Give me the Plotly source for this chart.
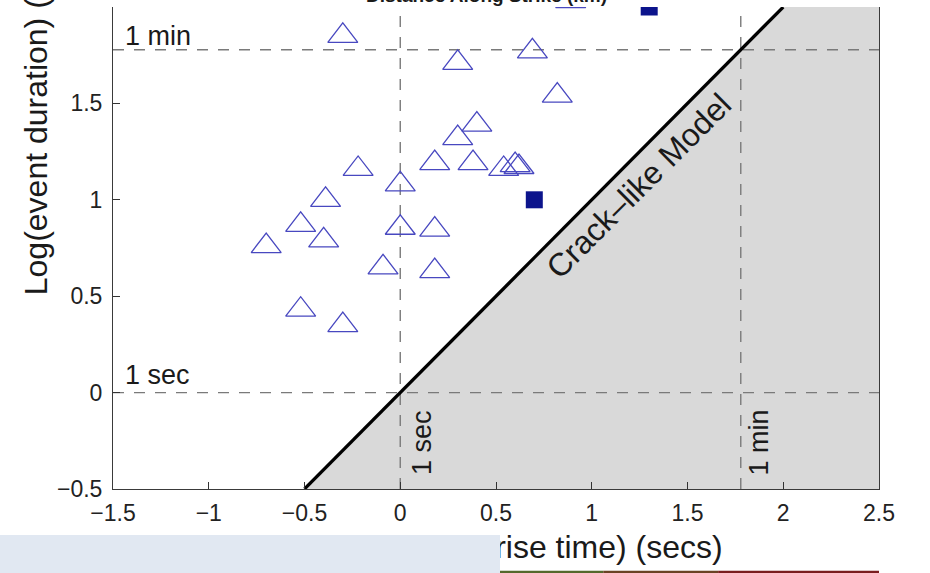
import numpy as np
import plotly.graph_objects as go

# log10 of dislocation rise time (s) and of event duration (s), one entry per event
rise_time_log = [-0.30, 0.30, 0.69, 0.82, 0.40, 0.30, 0.18, 0.38, 0.54, 0.60, 0.62,
                 -0.22, 0.00, -0.39, -0.70, -0.52, -0.40, 0.00, 0.18, -0.09, 0.18,
                 -0.52, -0.30, 0.89]
duration_log = [1.85, 1.71, 1.77, 1.54, 1.39, 1.32, 1.19, 1.19, 1.16, 1.18, 1.17,
                1.16, 1.08, 1.00, 0.76, 0.87, 0.79, 0.855, 0.845, 0.65, 0.63,
                0.43, 0.35, 2.03]

# highlighted events
sel_rise_log = [0.70, 1.30]
sel_duration_log = [1.00, 2.00]

# crack-like model: event duration equals rise time
model_x = [-0.5, 2.0]
model_y = list(model_x)

one_sec = 0.0
one_min = float(np.log10(60))

x_range = [-1.5, 2.5]
y_range = [-0.5, 2.0]
x_ticks = [-1.5, -1, -0.5, 0, 0.5, 1, 1.5, 2, 2.5]
x_ticklabels = ["−1.5", "−1", "−0.5", "0", "0.5", "1", "1.5", "2", "2.5"]
y_ticks = [-0.5, 0, 0.5, 1, 1.5, 2]
y_ticklabels = ["−0.5", "0", "0.5", "1", "1.5", "2"]

FONT = "Liberation Sans, Arial, Helvetica, sans-serif"
TEXT_COLOR = "#1a1a1a"
DASH_COLOR = "#7a7a7a"
DASH = "11px,10px"

fig = go.Figure()

# region below the crack-like model line
fig.add_trace(go.Scatter(
    x=[model_x[0], model_x[1], x_range[1], x_range[1], model_x[0]],
    y=[model_y[0], model_y[1], y_range[1], y_range[0], y_range[0]],
    mode="lines", fill="toself", fillcolor="#d9d9d9",
    line=dict(width=0), hoverinfo="skip", showlegend=False))

# 1 sec / 1 min reference lines
for v in (one_sec, one_min):
    fig.add_trace(go.Scatter(x=[v, v], y=y_range, mode="lines",
                             line=dict(color=DASH_COLOR, width=1.4, dash=DASH),
                             hoverinfo="skip", showlegend=False))
    fig.add_trace(go.Scatter(x=x_range, y=[v, v], mode="lines",
                             line=dict(color=DASH_COLOR, width=1.4, dash=DASH),
                             hoverinfo="skip", showlegend=False))

# crack-like model line
fig.add_trace(go.Scatter(x=model_x, y=model_y, mode="lines",
                         line=dict(color="black", width=3.2),
                         hoverinfo="skip", showlegend=False))

# events
fig.add_trace(go.Scatter(
    x=rise_time_log, y=duration_log, mode="markers",
    marker=dict(symbol="triangle-up-open", size=26, color="#4848c0",
                line=dict(width=1.3, color="#4848c0")),
    showlegend=False))

fig.add_trace(go.Scatter(
    x=sel_rise_log, y=sel_duration_log, mode="markers",
    marker=dict(symbol="square", size=17, color="#0c148c",
                line=dict(width=0)),
    showlegend=False))

ann_font = dict(family=FONT, size=27, color=TEXT_COLOR)
annotations = [
    dict(x=x_range[0], y=one_min, xref="x", yref="y", text="1 min",
         xanchor="left", yanchor="bottom", xshift=10, yshift=-3,
         showarrow=False, font=ann_font),
    dict(x=x_range[0], y=one_sec, xref="x", yref="y", text="1 sec",
         xanchor="left", yanchor="bottom", xshift=10, yshift=1,
         showarrow=False, font=ann_font),
    dict(x=one_sec, y=-0.26, xref="x", yref="y", text="1 sec",
         textangle=-90, xanchor="center", yanchor="middle", xshift=21,
         showarrow=False, font=ann_font),
    dict(x=one_min, y=-0.26, xref="x", yref="y", text="1 min",
         textangle=-90, xanchor="center", yanchor="middle", xshift=18,
         showarrow=False, font=ann_font),
    dict(x=1.245, y=1.072, xref="x", yref="y", text="Crack–like Model",
         textangle=-45, xanchor="center", yanchor="middle",
         showarrow=False, font=dict(family=FONT, size=32, color=TEXT_COLOR)),
    # axis titles
    dict(x=-0.1005, y=0.79, xref="paper", yref="paper",
         text="Log(event duration) (secs)", textangle=-90,
         xanchor="center", yanchor="middle", showarrow=False,
         font=dict(family=FONT, size=32, color=TEXT_COLOR)),
    dict(x=0.5015, y=-0.12, xref="paper", yref="paper",
         text="Log(dislocation rise time) (secs)",
         xanchor="center", yanchor="middle", showarrow=False,
         font=dict(family=FONT, size=32, color=TEXT_COLOR)),
    # label of the panel above
    dict(x=0.487, y=0.998, xref="paper", yref="paper",
         text="<b>Distance Along Strike (km)</b>",
         xanchor="center", yanchor="bottom", showarrow=False,
         font=dict(family=FONT, size=19, color=TEXT_COLOR)),
    # caption strip at the lower left, laid over the x title
    dict(x=-113 / 766, y=-46 / 482, xref="paper", yref="paper",
         text=" ", width=500, height=42, bgcolor="#e1e8f2",
         borderpad=0, borderwidth=0, xanchor="left", yanchor="top",
         showarrow=False, font=dict(family=FONT, size=10)),
]

shapes = [
    # colour strip at the lower right
    dict(type="rect", xref="paper", yref="paper",
         x0=387 / 766, x1=0.64, y0=-0.176, y1=-0.1695,
         fillcolor="#55682c", line=dict(width=0), layer="above"),
    dict(type="rect", xref="paper", yref="paper",
         x0=0.64, x1=0.79, y0=-0.176, y1=-0.1695,
         fillcolor="#6a4324", line=dict(width=0), layer="above"),
    dict(type="rect", xref="paper", yref="paper",
         x0=0.79, x1=1.0, y0=-0.176, y1=-0.1695,
         fillcolor="#7a1d1f", line=dict(width=0), layer="above"),
]

tick_font = dict(family=FONT, size=23, color="#222222")
fig.update_layout(
    width=930, height=573,
    margin=dict(l=113, r=51, t=7, b=84, pad=0),
    paper_bgcolor="white", plot_bgcolor="white",
    showlegend=False,
    annotations=annotations,
    shapes=shapes,
    xaxis=dict(range=x_range, tickvals=x_ticks, ticktext=x_ticklabels,
               ticks="inside", ticklen=7, tickcolor="#333333", tickwidth=1,
               showline=True, linecolor="#3a3a3a", linewidth=1, mirror=False,
               showgrid=False, zeroline=False, tickfont=tick_font,
               ticklabelstandoff=3),
    yaxis=dict(range=y_range, tickvals=y_ticks, ticktext=y_ticklabels,
               ticks="inside", ticklen=7, tickcolor="#333333", tickwidth=1,
               showline=True, linecolor="#3a3a3a", linewidth=1, mirror=True,
               showgrid=False, zeroline=False, tickfont=tick_font,
               ticklabelstandoff=5),
)

fig.write_html("out.html")
